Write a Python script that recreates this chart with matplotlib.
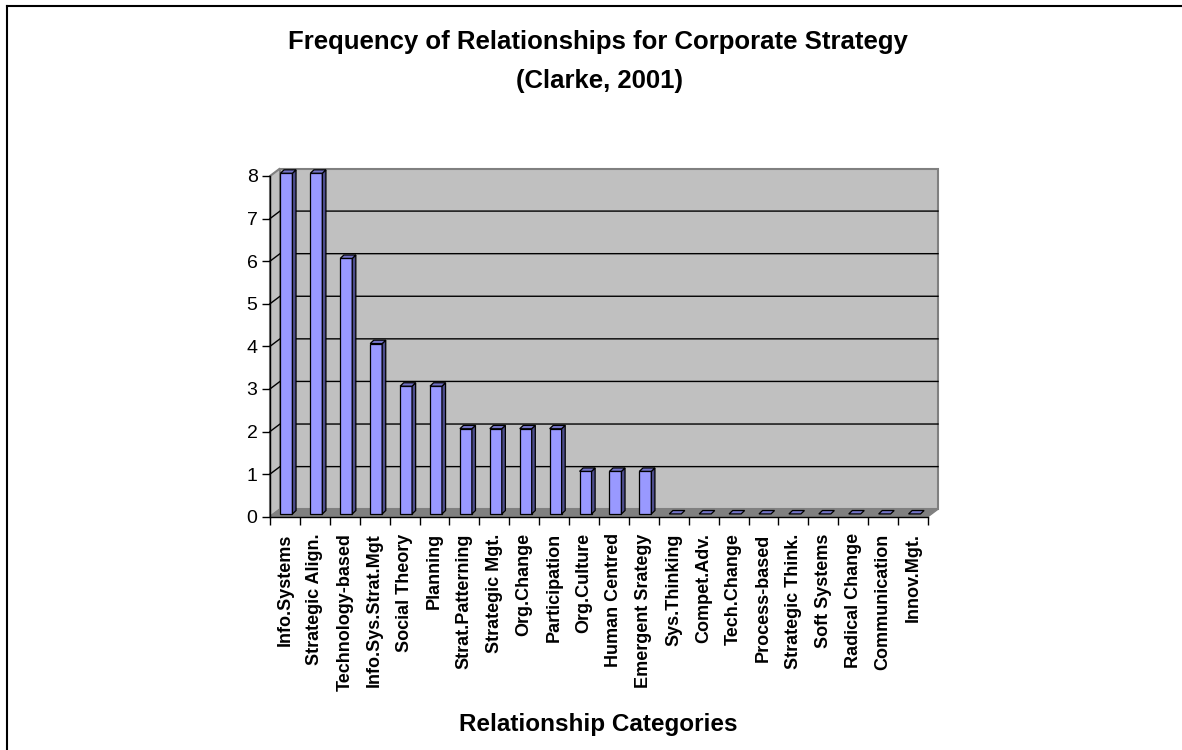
import matplotlib
matplotlib.use("Agg")
import matplotlib.pyplot as plt
from matplotlib.patches import Polygon
from matplotlib.lines import Line2D
import numpy as np

# Data
categories = [
    "Info.Systems", "Strategic Align.", "Technology-based", "Info.Sys.Strat.Mgt",
    "Social Theory", "Planning", "Strat.Patterning", "Strategic Mgt.",
    "Org.Change", "Participation", "Org.Culture", "Human Centred",
    "Emergent Srategy", "Sys.Thinking", "Compet.Adv.", "Tech.Change",
    "Process-based", "Strategic Think.", "Soft Systems", "Radical Change",
    "Communication", "Innov.Mgt.",
]
counts = [8, 8, 6, 4, 3, 3, 2, 2, 2, 2, 1, 1, 1, 0, 0, 0, 0, 0, 0, 0, 0, 0]
y_ticks = [0, 1, 2, 3, 4, 5, 6, 7, 8]

title_line1 = "Frequency of Relationships for Corporate Strategy"
title_line2 = "(Clarke, 2001)"
x_title = "Relationship Categories"

# Colors
C_WALL = '#C0C0C0'
C_FLOOR = '#808080'
C_EDGE = '#808080'
C_FRONT = '#9999FF'
C_TOP = '#7373C6'
C_SIDE = '#4D4D8C'

plt.rcParams['font.family'] = ['Liberation Sans', 'DejaVu Sans']

W, H = 1182, 750
fig = plt.figure(figsize=(W / 100, H / 100), dpi=100)
fig.patch.set_facecolor('white')

# front plane of the box, pixel coords
X0, X1 = 270, 928
YB, YT = 516.7, 176
ax = fig.add_axes([X0 / W, 1 - YB / H, (X1 - X0) / W, (YB - YT) / H])
n = len(categories)
ymax = y_ticks[-1]
ax.set_xlim(0, n)
ax.set_ylim(0, ymax)
ax.patch.set_visible(False)

px_x = (X1 - X0) / n
px_y = (YB - YT) / ymax
DX = 10 / px_x      # depth shift of the back wall
DY = 7.5 / px_y

def poly(pts, fc, ec, lw=1.0, z=1):
    ax.add_patch(Polygon(pts, closed=True, facecolor=fc, edgecolor=ec,
                         linewidth=lw, zorder=z, clip_on=False))

# walls and floor
poly([(DX, DY), (n + DX, DY), (n + DX, ymax + DY), (DX, ymax + DY)], C_WALL, C_EDGE, 1.5)
poly([(0, 0), (DX, DY), (DX, ymax + DY), (0, ymax)], C_WALL, C_EDGE, 1.5)
poly([(0, 0), (n, 0), (n + DX, DY), (DX, DY)], C_FLOOR, C_FLOOR, 1.0)

# gridlines on side and back wall
for k in y_ticks[1:-1]:
    ax.plot([0, DX, n + DX], [k, k + DY, k + DY], color='black', lw=1.0,
            zorder=1.5, clip_on=False)

# 3-D columns
b_off, b_w = 0.35, 0.40
d_x, d_y = 0.12, 0.08
base = 0.065
for i, v in enumerate(counts):
    x0 = i + b_off
    x1 = x0 + b_w
    top = v + base
    if v > 0:
        poly([(x0, base), (x1, base), (x1, top), (x0, top)], C_FRONT, 'black', 0.9, 3)
        poly([(x1, base), (x1 + d_x, base + d_y), (x1 + d_x, top + d_y), (x1, top)],
             C_SIDE, 'black', 0.9, 3)
    poly([(x0, top), (x1, top), (x1 + d_x, top + d_y), (x0 + d_x, top + d_y)],
         C_TOP, 'black', 0.9, 3)

# axes
for s in ['top', 'right']:
    ax.spines[s].set_visible(False)
for s in ['left', 'bottom']:
    ax.spines[s].set_color('black')
    ax.spines[s].set_linewidth(1.0)
    ax.spines[s].set_zorder(4)

ax.set_yticks(y_ticks)
ax.set_yticklabels([str(t) for t in y_ticks], fontsize=14)
ax.tick_params(axis='y', length=6, width=1, pad=3, direction='out')

ax.set_xticks(np.arange(n + 1))
ax.set_xticklabels([])
ax.set_xticks(np.arange(n) + 0.5, minor=True)
ax.set_xticklabels(categories, minor=True, rotation=90, fontsize=13, fontweight='bold')
ax.tick_params(axis='x', which='major', length=6, width=1, direction='out')
ax.tick_params(axis='x', which='minor', length=0, pad=12)

# titles
fig.text(598 / W, 1 - 49.3 / H, title_line1, ha='center', va='baseline',
         fontsize=18.5, fontweight='bold')
fig.text(599 / W, 1 - 88.3 / H, title_line2, ha='center', va='baseline',
         fontsize=18.5, fontweight='bold')
fig.text(598 / W, 1 - 731 / H, x_title, ha='center', va='baseline',
         fontsize=17.5, fontweight='bold')

# chart frame (left and top edges)
fig.add_artist(Line2D([7 / W, 7 / W], [0, 1 - 6 / H], color='black', lw=1.5))
fig.add_artist(Line2D([7 / W, 1], [1 - 6 / H, 1 - 6 / H], color='black', lw=1.5))

fig.savefig('out.png', dpi=100)
